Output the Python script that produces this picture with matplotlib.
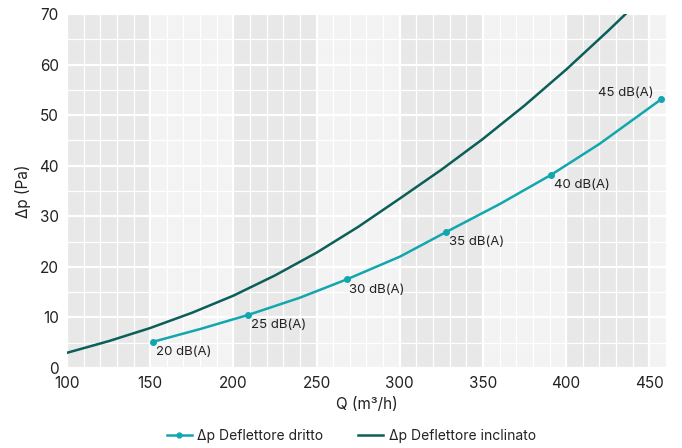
import matplotlib.pyplot as plt

plt.rcParams['font.family'] = ['Inter', 'DejaVu Sans']

# Δp deflettore dritto - punti di rumore
q_dritto = [152, 209, 268, 328, 391, 457]
dp_dritto = [5.2, 10.5, 17.5, 26.9, 38.2, 53.1]
db_labels = ['20 dB(A)', '25 dB(A)', '30 dB(A)', '35 dB(A)', '40 dB(A)', '45 dB(A)']

# punti intermedi della curva dritto
q_dritto_line = [152, 180, 209, 240, 268, 300, 328, 360, 391, 420, 457]
dp_dritto_line = [5.2, 7.7, 10.5, 13.9, 17.5, 22.0, 26.9, 32.4, 38.2, 44.3, 53.1]

# Δp deflettore inclinato
q_incl = [100, 125, 150, 175, 200, 225, 250, 275, 300, 325, 350, 375, 400, 425, 450]
dp_incl = [3.0, 5.3, 7.9, 10.9, 14.3, 18.3, 22.8, 27.9, 33.5, 39.2, 45.3, 51.9, 59.0, 66.6, 74.5]

x_ticks = [100, 150, 200, 250, 300, 350, 400, 450]
y_ticks = [0, 10, 20, 30, 40, 50, 60, 70]

teal = '#12a6ae'
dark = '#0b5e59'

fig = plt.figure(figsize=(6.82, 4.48), dpi=100)
ax = fig.add_axes([0.0982, 0.1786, 0.8783, 0.7902])
ax.set_facecolor('#f3f3f3')

# bande verticali alternate
for i, x0 in enumerate(x_ticks):
    if i % 2 == 0:
        ax.axvspan(x0, x0 + 50, color='#e8e8e8', zorder=0, lw=0)

ax.set_xlim(100, 460)
ax.set_ylim(0, 70)
ax.set_xticks(x_ticks)
ax.set_yticks(y_ticks)
ax.set_xticks(range(100, 461, 10), minor=True)
ax.set_yticks(range(0, 71, 5), minor=True)
ax.grid(which='major', color='white', lw=1.6, zorder=1)
ax.grid(which='minor', color='white', lw=0.9, zorder=1)
ax.set_axisbelow(True)
ax.tick_params(which='both', length=0, labelsize=11, colors='#222222', pad=6)
for s in ax.spines.values():
    s.set_visible(False)

ax.plot(q_incl, dp_incl, color=dark, lw=1.8, zorder=3, label='Δp Deflettore inclinato')
ax.plot(q_dritto_line, dp_dritto_line, color=teal, lw=1.8, zorder=3)
ax.plot(q_dritto, dp_dritto, 'o', color=teal, ms=4, zorder=4)

for q, dp, lab in zip(q_dritto, dp_dritto, db_labels):
    if lab == '45 dB(A)':
        ax.annotate(lab, (q, dp), xytext=(-5, 0), textcoords='offset points',
                    ha='right', va='bottom', fontsize=9.5, color='#222222')
    else:
        ax.annotate(lab, (q, dp), xytext=(2, -3), textcoords='offset points',
                    ha='left', va='top', fontsize=9.5, color='#222222')

ax.set_xlabel('Q (m³/h)', fontsize=11, color='#222222', labelpad=4)
ax.set_ylabel('Δp (Pa)', fontsize=11, color='#222222', labelpad=6)

h1 = plt.Line2D([], [], color=teal, lw=1.8, marker='o', ms=3.5)
h2 = plt.Line2D([], [], color=dark, lw=1.8)
fig.legend([h1, h2], ['Δp Deflettore dritto', 'Δp Deflettore inclinato'],
           loc='center', bbox_to_anchor=(0.515, 0.027), ncol=2, frameon=False,
           fontsize=10, handlelength=1.8, columnspacing=2.5, handletextpad=0.4,
           labelcolor='#222222')

fig.savefig('out.png', dpi=100)
